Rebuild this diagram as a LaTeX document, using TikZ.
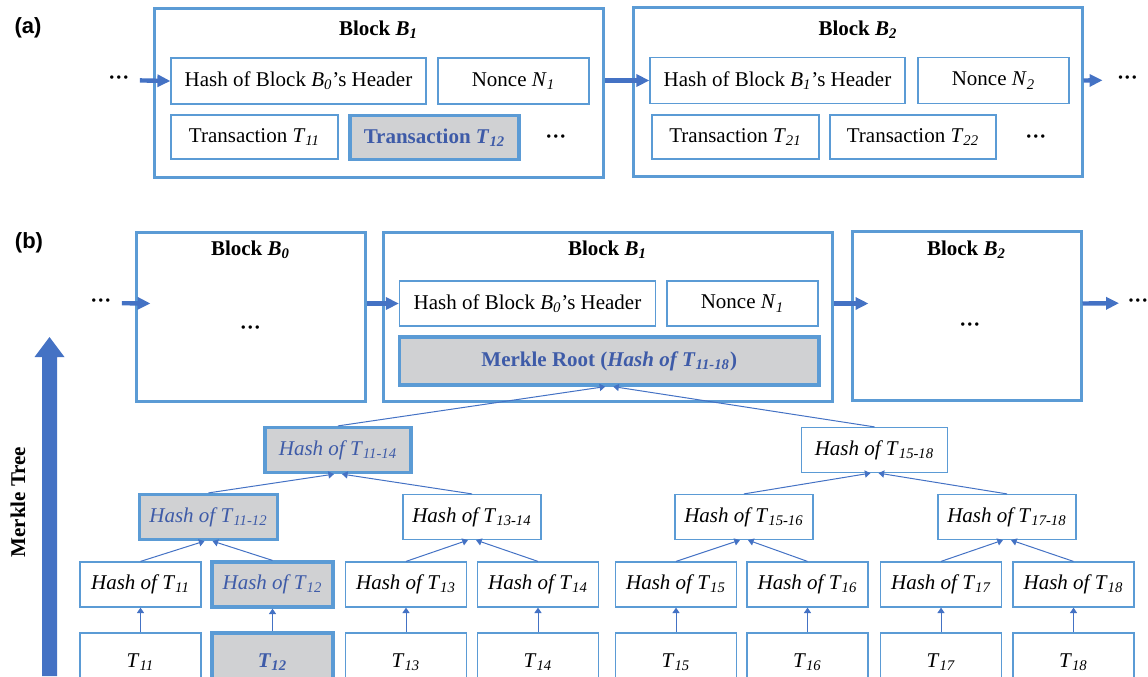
\documentclass[tikz,border=0pt]{standalone}
\usepackage{fontspec}
\setmainfont{Liberation Serif}
\newfontfamily\panelfont{Liberation Sans}
\usetikzlibrary{arrows.meta,calc}

\definecolor{boxblue}{RGB}{91,155,213}
\definecolor{arrowblue}{RGB}{68,114,196}
\definecolor{hlgray}{RGB}{208,209,211}
\definecolor{hlblue}{RGB}{62,91,168}
\newcommand{\idx}[1]{\textsubscript{\itshape #1}}

\begin{document}
\begin{tikzpicture}[x=0.5pt,y=-0.5pt,font=\fontsize{10.5pt}{12pt}\selectfont,
  box/.style={draw=boxblue,line width=0.6pt,fill=white,inner sep=0pt,minimum height=22.5pt},
  hlbox/.style={line width=1.6pt,fill=hlgray,text=hlblue},
  blockbox/.style={draw=boxblue,line width=1.5pt,inner sep=0pt,minimum height=84.5pt},
  hashbox/.style={box,minimum width=60.5pt},
  leafbox/.style={box,minimum width=60.5pt,minimum height=29pt},
  pairbox/.style={box,minimum width=69pt},
  quadbox/.style={box,minimum width=73pt},
  titlenode/.style={font=\fontsize{10.5pt}{12pt}\selectfont\bfseries},
  dotsnode/.style={inner sep=2pt,font=\fontsize{10.5pt}{12pt}\selectfont\bfseries},
  panelnode/.style={font=\fontsize{11pt}{13pt}\selectfont\panelfont\bfseries},
  link/.style={-{Triangle[length=6.5pt,width=6pt]},draw=arrowblue,line width=2.2pt},
  treeline/.style={-{Triangle[length=2.8pt,width=3.6pt]},draw=arrowblue,line width=0.5pt}]

\useasboundingbox (0,0) rectangle (1148,676);

\node[panelnode] (pa) at (28,28) {(a)};
\node[panelnode] (pb) at (29,243) {(b)};

\begin{scope}
  \node[blockbox,minimum width=224.5pt] (blkA1) at (378.5,92.5) {};
  \node[blockbox,minimum width=224.5pt] (blkA2) at (857.5,92) {};
  \node[titlenode] (ttlA1) at (378.5,30) {Block \textit{B}\idx{1}};
  \node[titlenode] (ttlA2) at (858,30) {Block \textit{B}\idx{2}};
  \node[box,minimum width=127.5pt,minimum height=23pt] (hdrA1) at (298.5,81) {Hash of Block \textit{B}\idx{0}’s Header};
  \node[box,minimum width=75.5pt,minimum height=23pt] (nonA1) at (513.5,81) {Nonce \textit{N}\idx{1}};
  \node[box,minimum width=83.5pt,minimum height=22pt] (txA11) at (254.5,137) {Transaction \textit{T}\idx{11}};
  \node[box,hlbox,minimum width=84.5pt,minimum height=22pt] (txA12) at (434.5,137.5) {\bfseries Transaction \textit{T}\idx{12}};
  \node[dotsnode] (dotsA1) at (556,139) {···};
  \node[box,minimum width=127.5pt,minimum height=23pt] (hdrA2) at (777.5,80.5) {Hash of Block \textit{B}\idx{1}’s Header};
  \node[box,minimum width=75.5pt,minimum height=23pt] (nonA2) at (993.5,80.5) {Nonce \textit{N}\idx{2}};
  \node[box,minimum width=83.5pt,minimum height=22pt] (txA21) at (735.5,137) {Transaction \textit{T}\idx{21}};
  \node[box,minimum width=83pt,minimum height=22pt] (txA22) at (913,137) {Transaction \textit{T}\idx{22}};
  \node[dotsnode] (dotsA2) at (1036,139) {···};
  \node[dotsnode] (dotsA0) at (119,80) {···};
  \node[dotsnode] (dotsA3) at (1127.5,80) {···};
  \draw[link,shorten <=3pt] (dotsA0) -- (hdrA1.west);
  \draw[link] (blkA1.east |- hdrA2.west) -- (hdrA2.west);
  \draw[link,shorten >=5pt] (blkA2.east |- nonA2.east) -- (dotsA3);
\end{scope}

\begin{scope}
  \node[blockbox,minimum width=114.5pt] (blkB0) at (250.5,316.5) {};
  \node[blockbox,minimum width=224.5pt] (blkB1) at (607.5,316.5) {};
  \node[blockbox,minimum width=114.5pt] (blkB2) at (966.5,316) {};
  \node[titlenode] (ttlB0) at (250.5,250) {Block \textit{B}\idx{0}};
  \node[titlenode] (ttlB1) at (607.5,250) {Block \textit{B}\idx{1}};
  \node[titlenode] (ttlB2) at (966.5,250) {Block \textit{B}\idx{2}};
  \node[dotsnode] (dotsB0in) at (250.5,330) {···};
  \node[dotsnode] (dotsB2in) at (970,327) {···};
  \node[box,minimum width=128pt] (hdrB1) at (527.5,303.5) {Hash of Block \textit{B}\idx{0}’s Header};
  \node[box,minimum width=75.5pt] (nonB1) at (742.5,303.5) {Nonce \textit{N}\idx{1}};
  \node[box,hlbox,minimum width=209.75pt,minimum height=24pt] (root) at (609.25,361) {\bfseries Merkle Root (\textit{Hash of T}\idx{11-18})};
  \node[dotsnode] (dotsB0) at (101,303) {···};
  \node[dotsnode] (dotsB3) at (1138,303) {···};
  \draw[link,shorten <=3pt] (dotsB0) -- ([xshift=8pt]blkB0.west |- hdrB1.west);
  \draw[link] (blkB0.east |- hdrB1.west) -- (hdrB1.west);
  \draw[link] (blkB1.east |- hdrB1.west) -- ([xshift=9pt]blkB2.west |- hdrB1.west);
  \draw[link,shorten >=2pt] (blkB2.east |- hdrB1.west) -- (dotsB3);
\end{scope}

\fill[arrowblue] (42,676) -- (42,357) -- (34.5,357) -- (49.5,337) -- (64.5,357) -- (57,357) -- (57,676) -- cycle;
\node[titlenode,rotate=90] (mtree) at (18,502) {Merkle Tree};

\node[quadbox,hlbox] (h1114) at (338,450) {\textit{Hash of T}\idx{11-14}};
\node[quadbox] (h1518) at (874.5,450) {\textit{Hash of T}\idx{15-18}};
\node[pairbox,hlbox] (h1112) at (208.5,517) {\textit{Hash of T}\idx{11-12}};
\node[pairbox] (h1314) at (472,517) {\textit{Hash of T}\idx{13-14}};
\node[pairbox] (h1516) at (744,517) {\textit{Hash of T}\idx{15-16}};
\node[pairbox] (h1718) at (1007,517) {\textit{Hash of T}\idx{17-18}};
\node[hashbox] (h11) at (140.5,584.5) {\textit{Hash of T}\idx{11}};
\node[hashbox,hlbox] (h12) at (272.5,584.5) {\textit{Hash of T}\idx{12}};
\node[hashbox] (h13) at (406,584.5) {\textit{Hash of T}\idx{13}};
\node[hashbox] (h14) at (538,584.5) {\textit{Hash of T}\idx{14}};
\node[hashbox] (h15) at (676,584.5) {\textit{Hash of T}\idx{15}};
\node[hashbox] (h16) at (807.5,584.5) {\textit{Hash of T}\idx{16}};
\node[hashbox] (h17) at (941,584.5) {\textit{Hash of T}\idx{17}};
\node[hashbox] (h18) at (1073.5,584.5) {\textit{Hash of T}\idx{18}};
\node[leafbox] (t11) at (140.5,662) {\textit{T}\idx{11}};
\node[leafbox,hlbox] (t12) at (272.5,662) {\bfseries\textit{T}\idx{12}};
\node[leafbox] (t13) at (406,662) {\textit{T}\idx{13}};
\node[leafbox] (t14) at (538,662) {\textit{T}\idx{14}};
\node[leafbox] (t15) at (676,662) {\textit{T}\idx{15}};
\node[leafbox] (t16) at (807.5,662) {\textit{T}\idx{16}};
\node[leafbox] (t17) at (941,662) {\textit{T}\idx{17}};
\node[leafbox] (t18) at (1073.5,662) {\textit{T}\idx{18}};

\draw[treeline] (t11) -- (h11);
\draw[treeline] (t12) -- (h12);
\draw[treeline] (t13) -- (h13);
\draw[treeline] (t14) -- (h14);
\draw[treeline] (t15) -- (h15);
\draw[treeline] (t16) -- (h16);
\draw[treeline] (t17) -- (h17);
\draw[treeline] (t18) -- (h18);
\draw[treeline] (h11.north) -- ([xshift=-2pt]h1112.south);
\draw[treeline] (h12.north) -- ([xshift=2pt]h1112.south);
\draw[treeline] (h13.north) -- ([xshift=-2pt]h1314.south);
\draw[treeline] (h14.north) -- ([xshift=2pt]h1314.south);
\draw[treeline] (h15.north) -- ([xshift=-2pt]h1516.south);
\draw[treeline] (h16.north) -- ([xshift=2pt]h1516.south);
\draw[treeline] (h17.north) -- ([xshift=-2pt]h1718.south);
\draw[treeline] (h18.north) -- ([xshift=2pt]h1718.south);
\draw[treeline] (h1112.north) -- ([xshift=-2pt]h1114.south);
\draw[treeline] (h1314.north) -- ([xshift=2pt]h1114.south);
\draw[treeline] (h1516.north) -- ([xshift=-2pt]h1518.south);
\draw[treeline] (h1718.north) -- ([xshift=2pt]h1518.south);
\draw[treeline] (h1114.north) -- ([xshift=-2pt]root.south);
\draw[treeline] (h1518.north) -- ([xshift=2pt]root.south);

\end{tikzpicture}
\end{document}
